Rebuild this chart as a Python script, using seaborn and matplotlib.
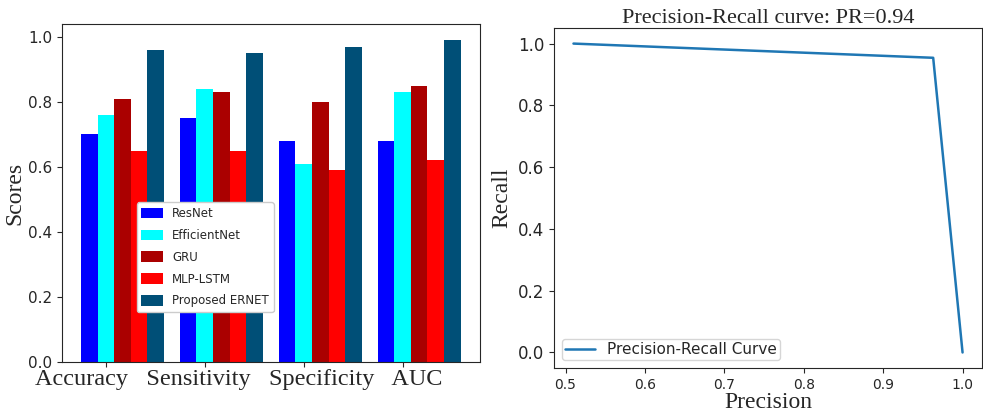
import numpy as np
import pandas as pd
import seaborn as sns
import matplotlib.pyplot as plt

# 1. Data
metrics = ['Accuracy', 'Sensitivity', 'Specificity', 'AUC']
models = ['ResNet', 'EfficientNet', 'GRU', 'MLP-LSTM', 'Proposed ERNET']
resnet = [0.70, 0.75, 0.68, 0.68]
efficientnet = [0.76, 0.84, 0.61, 0.83]
gru = [0.81, 0.83, 0.80, 0.85]
mlp_lstm = [0.65, 0.65, 0.59, 0.62]
ernet = [0.96, 0.95, 0.97, 0.99]
model_colors = ['#0000ff', '#00ffff', '#aa0000', '#ff0000', '#004f77']

precision = [0.51, 0.963, 1.0]
recall = [1.0, 0.954, 0.0]

# 2. Long dataframe for the grouped bars
scores = [resnet, efficientnet, gru, mlp_lstm, ernet]
rows = []
for name, vals in zip(models, scores):
    for m, v in zip(metrics, vals):
        rows.append({'metric': m, 'model': name, 'score': v})
df = pd.DataFrame(rows)

sns.set_style('ticks')
serif = 'Liberation Serif'

fig = plt.figure(figsize=(9.83, 4.2), dpi=100)
ax1 = fig.add_axes([0.063, 0.138, 0.425, 0.805])
ax2 = fig.add_axes([0.5636, 0.124, 0.4354, 0.809])

# A. Bar chart
group_w = 0.84
bar_w = group_w / len(models)
sns.barplot(data=df, x='metric', y='score', hue='model', palette=model_colors,
            width=group_w, saturation=1, linewidth=0, edgecolor='none', ax=ax1)
ax1.set_xlim(-0.612, 3.612)
ax1.set_ylim(0, 1.04)
ax1.set_xticks(np.arange(len(metrics)) - bar_w)
ax1.set_xticklabels([''] * len(metrics))
ax1.set_xlabel('   '.join(metrics), fontsize=17.5, family=serif, labelpad=0)
ax1.xaxis.set_label_coords(0.423, -0.022, transform=ax1.transAxes)
ax1.xaxis.label.set_va('top')
ax1.set_ylabel('Scores', fontsize=17, family=serif, labelpad=2)
ax1.tick_params(axis='y', labelsize=11)
ax1.legend(loc='lower left', bbox_to_anchor=(0.165, 0.13), fontsize=8.5,
           frameon=True, framealpha=1, borderpad=0.4, handlelength=1.8,
           handleheight=1.0, labelspacing=0.75, handletextpad=0.8)

# B. Precision-Recall curve
sns.lineplot(x=precision, y=recall, ax=ax2, color='#1f77b4', linewidth=1.8,
             label='Precision-Recall Curve', sort=False)
ax2.set_title('Precision-Recall curve: PR=0.94', fontsize=16, family=serif, pad=3)
ax2.set_xlabel('Precision', fontsize=17, family=serif, labelpad=0)
ax2.set_ylabel('Recall', fontsize=17, family=serif, labelpad=4)
ax2.tick_params(axis='y', labelsize=12)
ax2.tick_params(axis='x', labelsize=10)
ax2.legend(loc='lower left', fontsize=11, borderpad=0.2, handlelength=2.0)

fig.savefig('out.png', dpi=100)
